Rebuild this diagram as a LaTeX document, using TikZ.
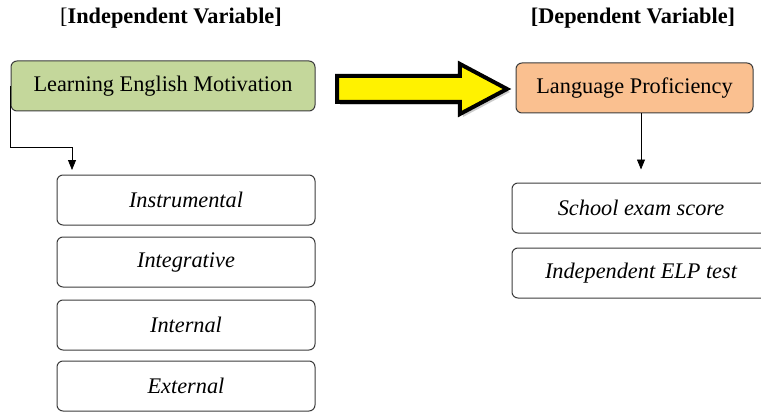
\documentclass[tikz,border=0pt]{standalone}
\usepackage{fontspec}
\setmainfont{Liberation Serif}
\usepackage{tikz}
\usetikzlibrary{shapes.arrows, arrows.meta, positioning, shadows, calc}
\definecolor{motgreen}{RGB}{196, 215, 155}
\definecolor{profpeach}{RGB}{250, 192, 144}
\definecolor{boxline}{RGB}{60, 60, 60}

\begin{document}
\begin{tikzpicture}[x=1pt, y=-1pt,
    font=\fontsize{22.3}{26}\selectfont,
    varbox/.style={rectangle, rounded corners=6pt, draw=boxline, line width=1pt,
                   minimum height=50pt, align=center},
    subbox/.style={varbox, minimum width=258pt, font=\fontsize{22.3}{26}\selectfont\itshape},
    link/.style={-{Triangle[width=8pt, length=10pt]}, line width=0.8pt},
    bigarrow/.style={single arrow, draw=black, line width=4pt, fill=yellow,
                     minimum height=170pt, minimum width=46pt, inner sep=0pt, inner ysep=11pt,
                     single arrow head extend=12pt, single arrow tip angle=56,
                     drop shadow={shadow xshift=3pt, shadow yshift=-3pt, fill=black!40}}]
    \useasboundingbox (0,0) rectangle (761,412);

    % Headings
    \node (hind) at (171, 18) {[\textbf{Independent Variable]}};
    \node (hdep) at (633, 18) {\textbf{[Dependent Variable]}};

    % Variables
    \node[varbox, fill=motgreen, minimum width=304pt] (lem) at (163, 86) {Learning English Motivation};
    \node[varbox, fill=profpeach, minimum width=237pt] (lp) at (634.5, 88) {Language Proficiency};

    % Big arrow
    \node[bigarrow, anchor=tail] (flow) at (335, 89) {};

    % Motivation types
    \node[subbox] (ins) at (186, 200) {Instrumental};
    \node[subbox] (itg) at (186, 262) {Integrative};
    \node[subbox] (itn) at (186, 325) {Internal};
    \node[subbox] (ext) at (186, 386) {External};

    % Proficiency measures
    \node[subbox] (sch) at (641, 208) {School exam score};
    \node[subbox] (elp) at (641, 273) {Independent ELP test};

    % Connectors
    \coordinate (elb) at (72, 170);
    \draw[link] (lem.west) -- ++(0, 61) -| (elb);
    \draw[link] (lp.south -| sch.north) -- ($(sch.north)+(0,-13)$);
\end{tikzpicture}
\end{document}
